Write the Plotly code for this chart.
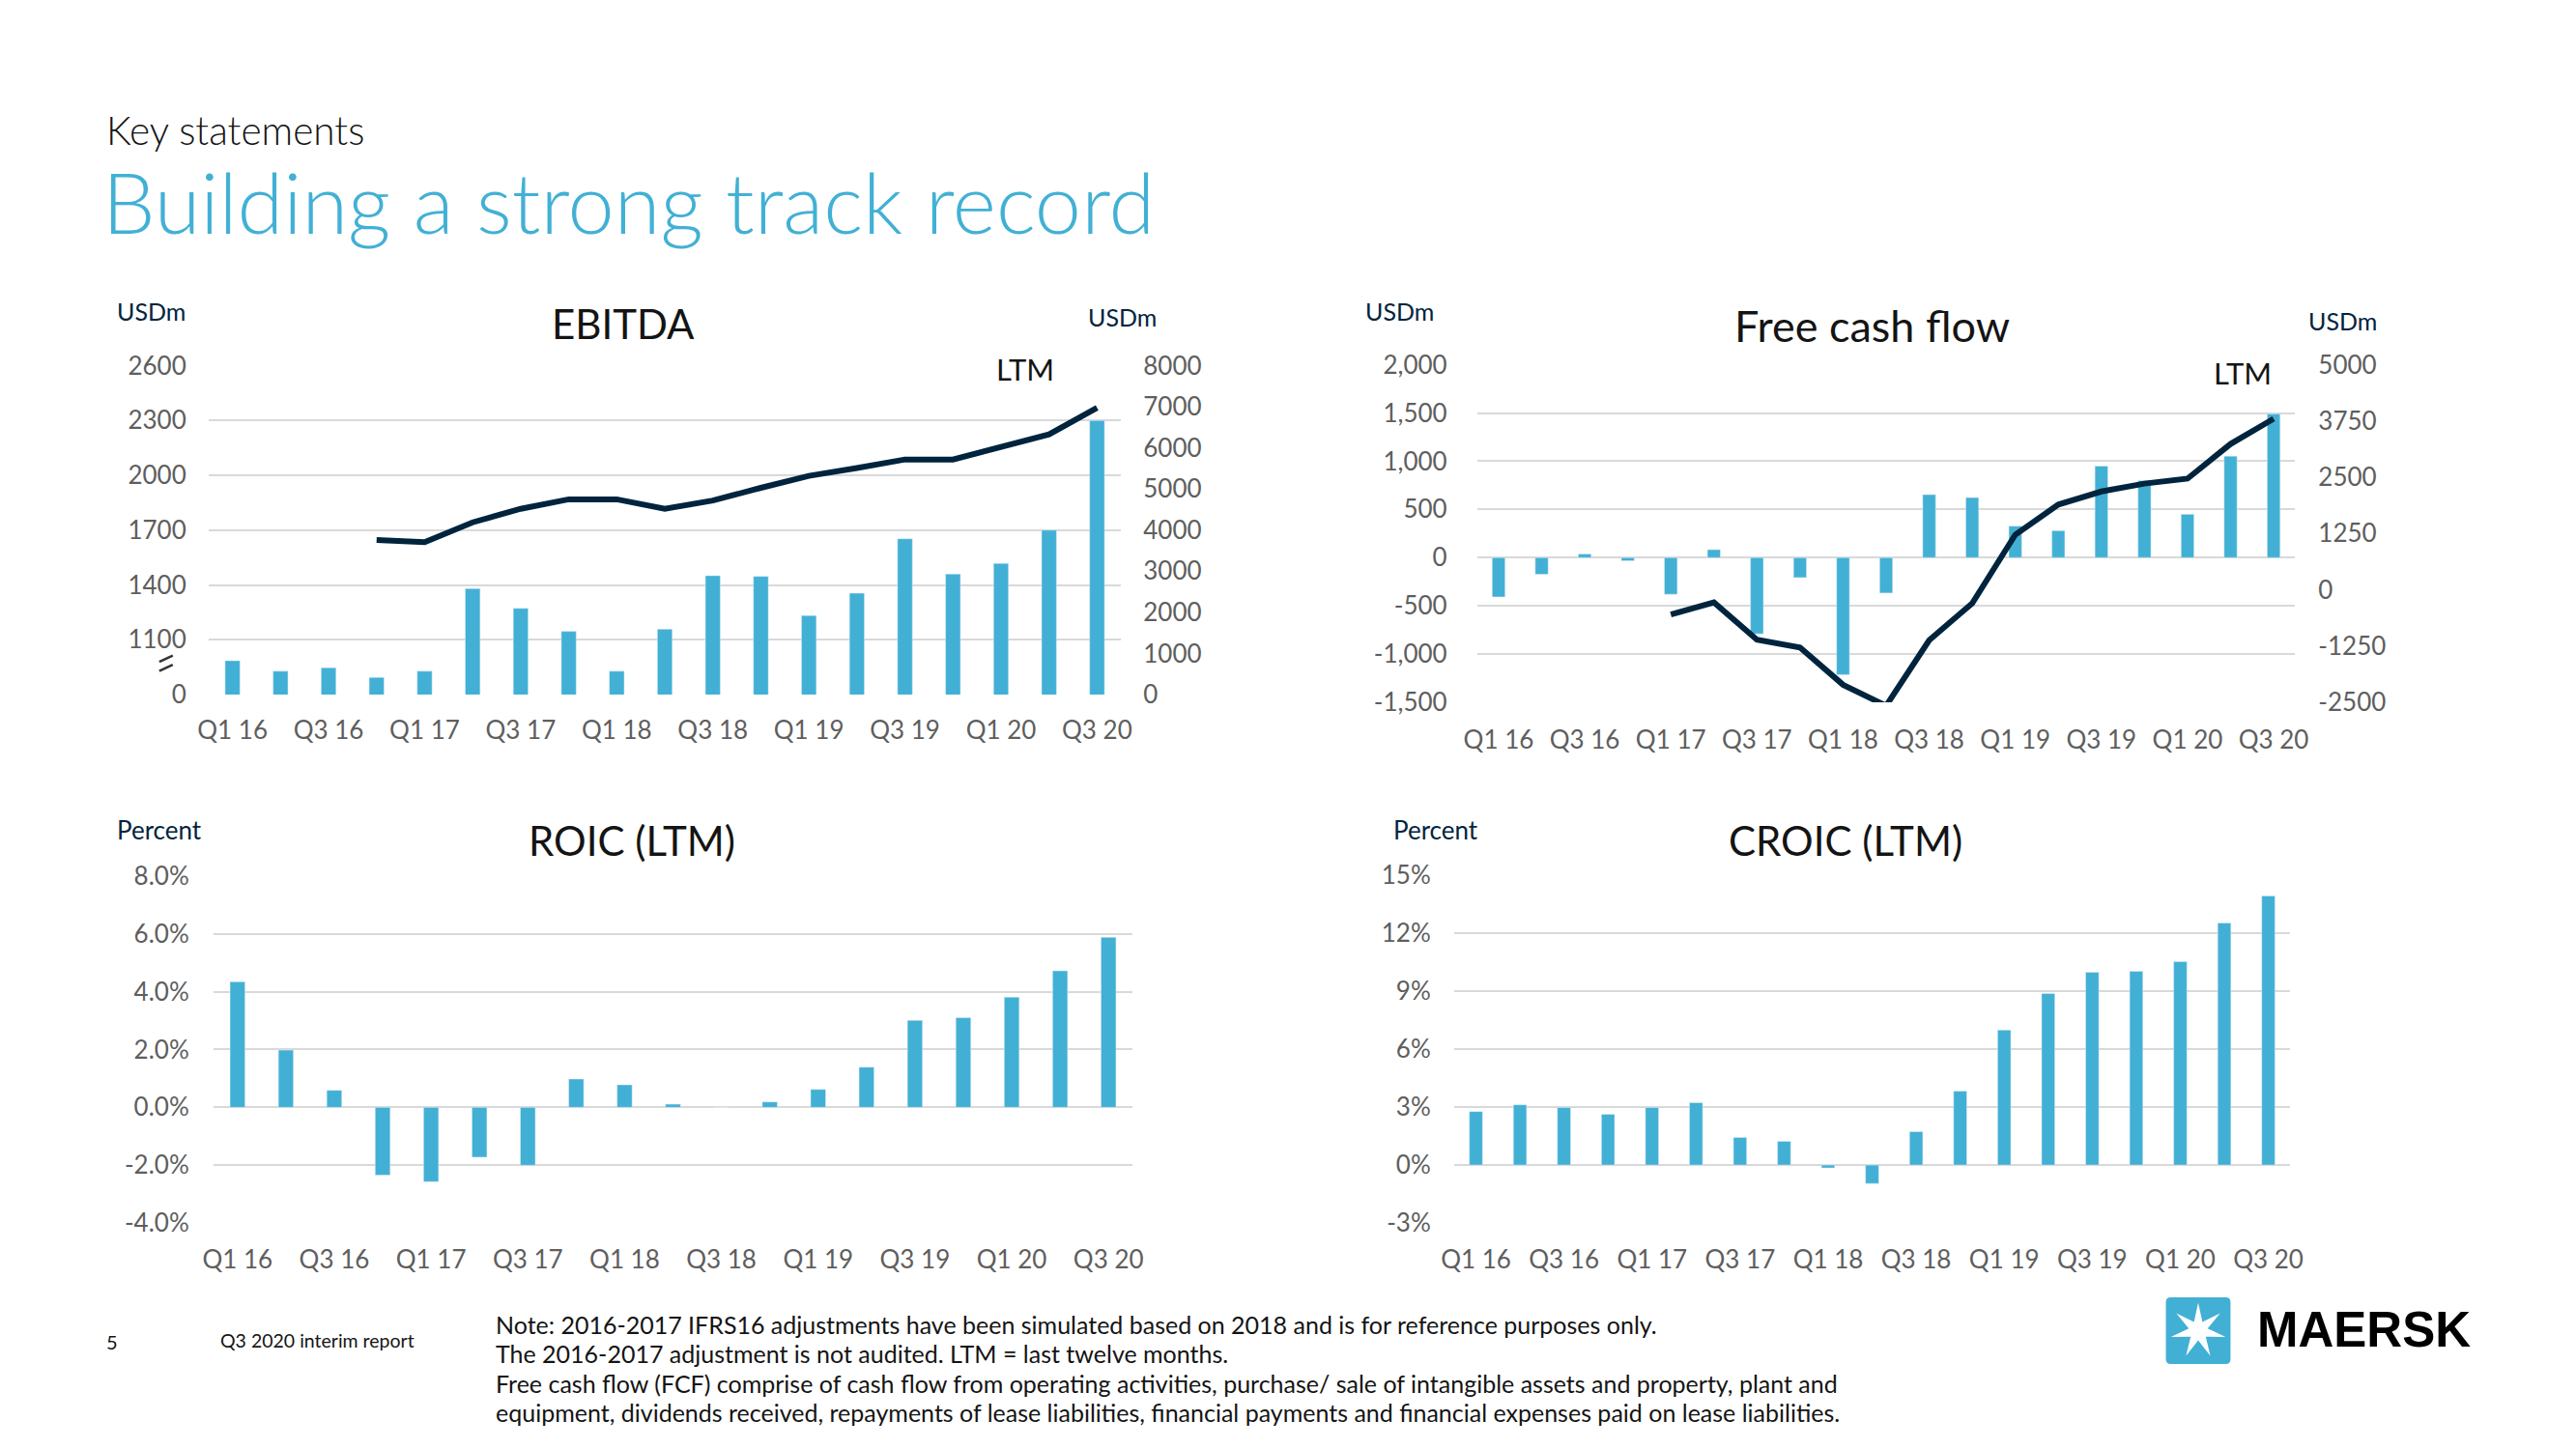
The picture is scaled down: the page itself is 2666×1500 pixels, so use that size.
import math
import plotly.graph_objects as go

# Page is 2666x1500; the browser body keeps its default 8px margin,
# so the figure itself is 16px smaller and all page coordinates are offset by 8px.
PAGE_W, PAGE_H = 2666, 1500
OFF = 8
W, H = PAGE_W - 2 * OFF, PAGE_H - 2 * OFF
# small correction of the capture's apparent scale around the page centre
CX, CY, SX, SY = 1333.0, 750.0, 0.991, 0.98

quarters = ["Q1 16", "Q2 16", "Q3 16", "Q4 16", "Q1 17", "Q2 17", "Q3 17", "Q4 17",
            "Q1 18", "Q2 18", "Q3 18", "Q4 18", "Q1 19", "Q2 19", "Q3 19", "Q4 19",
            "Q1 20", "Q2 20", "Q3 20"]
tick_quarters = quarters[::2]

# EBITDA (USDm), quarterly bars (left, broken axis) and LTM line (right)
ebitda = [986, 928, 947, 894, 928, 1380, 1272, 1146, 928, 1158, 1451, 1447,
          1233, 1355, 1653, 1460, 1518, 1700, 2300]
ebitda_ltm = [None, None, None, 3760, 3710, 4190, 4520, 4750, 4750, 4520, 4720, 5030,
              5320, 5510, 5720, 5720, 6020, 6330, 6980]
ebitda_left_vals = [800, 1100, 1400, 1700, 2000, 2300, 2600]
ebitda_left_text = ["0", "1100", "1400", "1700", "2000", "2300", "2600"]
ebitda_right_vals = [0, 1000, 2000, 3000, 4000, 5000, 6000, 7000, 8000]
ebitda_right_text = ["0", "1000", "2000", "3000", "4000", "5000", "6000", "7000", "8000"]

# Free cash flow (USDm)
fcf = [-407, -173, 37, -33, -380, 83, -790, -207, -1213, -367, 653, 623,
       327, 280, 950, 800, 450, 1053, 1490]
fcf_ltm = [None, None, None, None, -550, -280, -1110, -1280, -2110, -2577, -1120, -300,
           1225, 1895, 2185, 2360, 2470, 3240, 3800]
fcf_left_vals = [-1500, -1000, -500, 0, 500, 1000, 1500, 2000]
fcf_left_text = ["-1,500", "-1,000", "-500", "0", "500", "1,000", "1,500", "2,000"]
fcf_right_vals = [-2500, -1250, 0, 1250, 2500, 3750, 5000]
fcf_right_text = ["-2500", "-1250", "0", "1250", "2500", "3750", "5000"]

# ROIC (LTM), percent
roic = [4.34, 1.98, 0.59, -2.34, -2.57, -1.72, -2.00, 0.98, 0.78, 0.11, 0.0, 0.19,
        0.62, 1.39, 3.01, 3.10, 3.81, 4.72, 5.88]
roic_vals = [-4, -2, 0, 2, 4, 6, 8]
roic_text = ["-4.0%", "-2.0%", "0.0%", "2.0%", "4.0%", "6.0%", "8.0%"]

# CROIC (LTM), percent
croic = [2.77, 3.12, 2.98, 2.63, 2.98, 3.23, 1.43, 1.23, -0.15, -0.95, 1.73, 3.82,
         6.98, 8.87, 9.97, 10.02, 10.52, 12.52, 13.92]
croic_vals = [-3, 0, 3, 6, 9, 12, 15]
croic_text = ["-3%", "0%", "3%", "6%", "9%", "12%", "15%"]

BLUE = "#42B0D5"
NAVY = "#00243D"
GRID = "#D9D9D9"
TICK = "#5E5E5E"
DARK = "#141414"
FONT = "Lato, 'Noto Sans', sans-serif"


def px(x):
    xp = CX + (x - CX) / SX
    return (xp - OFF) / W


def py(y):
    yp = CY + (y - CY) / SY
    return 1 - (yp - OFF) / H


fig = go.Figure()

fig.add_trace(go.Bar(x=quarters, y=ebitda, marker_color=BLUE, width=0.31,
                     xaxis="x", yaxis="y"))
fig.add_trace(go.Scatter(x=quarters, y=ebitda_ltm, mode="lines",
                         line=dict(color=NAVY, width=6), xaxis="x", yaxis="y2"))
fig.add_trace(go.Bar(x=quarters, y=fcf, marker_color=BLUE, width=0.30,
                     xaxis="x3", yaxis="y3"))
fig.add_trace(go.Scatter(x=quarters, y=fcf_ltm, mode="lines",
                         line=dict(color=NAVY, width=6), xaxis="x3", yaxis="y4"))
fig.add_trace(go.Bar(x=quarters, y=roic, marker_color=BLUE, width=0.31,
                     xaxis="x5", yaxis="y5"))
fig.add_trace(go.Bar(x=quarters, y=croic, marker_color=BLUE, width=0.30,
                     xaxis="x6", yaxis="y6"))

tickfont = dict(family=FONT, size=26, color=TICK)


def xax(domain, anchor, standoff):
    return dict(domain=domain, anchor=anchor, type="category",
                categoryorder="array", categoryarray=quarters,
                tickvals=tick_quarters, ticktext=tick_quarters,
                showgrid=False, showline=False, zeroline=False, ticks="",
                tickfont=tickfont, ticklabelstandoff=standoff, fixedrange=True)


def yax(domain, anchor, rng, vals, text, standoff, grid=True, side="left", overlaying=None):
    d = dict(domain=domain, anchor=anchor, range=rng, tickvals=vals, ticktext=text,
             showgrid=grid, gridcolor=GRID, gridwidth=2, zeroline=False,
             showline=False, ticks="", tickfont=tickfont, side=side,
             ticklabelstandoff=standoff, fixedrange=True)
    if overlaying:
        d["overlaying"] = overlaying
    return d


fig.update_layout(
    xaxis=xax([px(214), px(1160)], "y", 19),
    yaxis=yax([py(718), py(377)], "x", [800, 2600], ebitda_left_vals, ebitda_left_text, 22),
    yaxis2=yax([py(718), py(377)], "x", [0, 8000], ebitda_right_vals, ebitda_right_text, 22,
               grid=False, side="right", overlaying="y"),
    xaxis3=xax([px(1529), px(2377)], "y3", 21),
    yaxis3=yax([py(726), py(376)], "x3", [-1500, 2000], fcf_left_vals, fcf_left_text, 30),
    yaxis4=yax([py(726), py(376)], "x3", [-2500, 5000], fcf_right_vals, fcf_right_text, 23,
               grid=False, side="right", overlaying="y3"),
    xaxis5=xax([px(219), px(1172)], "y5", 20),
    yaxis5=yax([py(1266), py(906)], "x5", [-4, 8], roic_vals, roic_text, 24),
    xaxis6=xax([px(1505), px(2372)], "y6", 20),
    yaxis6=yax([py(1266), py(905)], "x6", [-3, 15], croic_vals, croic_text, 23),
)


def ann(text, x, y, size, color=DARK, xanchor="left", yanchor="middle", family=FONT,
        weight=None, **kw):
    font = dict(family=family, size=size, color=color)
    if weight:
        font["weight"] = weight
    fig.add_annotation(text=text, x=px(x), y=py(y), xref="paper", yref="paper",
                       xanchor=xanchor, yanchor=yanchor, showarrow=False,
                       font=font, **kw)


# Header
ann("Key statements", 106, 133, 40.5, color=DARK, weight=300)
ann("Building a strong track record", 102, 207, 86.5, color=BLUE, weight=300)

# EBITDA
ann("EBITDA", 644, 333, 42, xanchor="center")
ann("USDm", 117, 320, 25, color=NAVY)
ann("USDm", 1124, 326, 25, color=NAVY)
ann("LTM", 1061, 380, 31, xanchor="center")

# axis-break mark on the EBITDA left axis
for (x0, y0, x1, y1) in [(163, 684, 177, 677.5), (163, 693.5, 177, 687)]:
    fig.add_shape(type="line", xref="paper", yref="paper",
                  x0=px(x0), y0=py(y0), x1=px(x1), y1=py(y1),
                  line=dict(color="#333333", width=2.5))

# Free cash flow
ann("Free cash flow", 1938, 335, 45, xanchor="center")
ann("USDm", 1411, 320, 25, color=NAVY)
ann("USDm", 2389, 330, 25, color=NAVY)
ann("LTM", 2323, 384, 31, xanchor="center")

# ROIC / CROIC
ann("Percent", 117, 858, 26, color=NAVY)
ann("ROIC (LTM)", 653, 869, 42, xanchor="center")
ann("Percent", 1440, 858, 26, color=NAVY)
ann("CROIC (LTM)", 1911, 869, 42, xanchor="center")

# Footer
ann("5", 106, 1389, 20)
ann("Q3 2020 interim report", 224, 1388, 19.5)
notes = [
    "Note: 2016-2017 IFRS16 adjustments have been simulated based on 2018 and is for reference purposes only.",
    "The 2016-2017 adjustment is not audited. LTM = last twelve months.",
    "Free cash flow (FCF) comprise of cash flow from operating activities, purchase/ sale of intangible assets and property, plant and",
    "equipment, dividends received, repayments of lease liabilities, financial payments and financial expenses paid on lease liabilities.",
]
for i, line in enumerate(notes):
    ann(line, 510, 1371 + i * 30.5, 25)

# Maersk logo: rounded light-blue square with a white seven-pointed star
x0, x1, y0, y1, rc = 2243, 2310, 1343, 1412, 5
sq = (f"M {px(x0+rc)},{py(y0)} L {px(x1-rc)},{py(y0)} Q {px(x1)},{py(y0)} {px(x1)},{py(y0+rc)} "
      f"L {px(x1)},{py(y1-rc)} Q {px(x1)},{py(y1)} {px(x1-rc)},{py(y1)} "
      f"L {px(x0+rc)},{py(y1)} Q {px(x0)},{py(y1)} {px(x0)},{py(y1-rc)} "
      f"L {px(x0)},{py(y0+rc)} Q {px(x0)},{py(y0)} {px(x0+rc)},{py(y0)} Z")
fig.add_shape(type="path", xref="paper", yref="paper", path=sq,
              fillcolor=BLUE, line=dict(width=0))
cx, cy, R, r = 2276.5, 1377.5, 29, 10
pts = []
for k in range(14):
    ang = -math.pi / 2 + k * math.pi / 7
    rad = R if k % 2 == 0 else r
    pts.append((cx + rad * math.cos(ang), cy + rad * math.sin(ang)))
path = "M " + " L ".join(f"{px(a):.6f},{py(b):.6f}" for a, b in pts) + " Z"
fig.add_shape(type="path", xref="paper", yref="paper", path=path,
              fillcolor="white", line=dict(width=0))
ann("<b>MAERSK</b>", 2336, 1376, 51, color="#000000",
    family="'Liberation Sans', Arial, sans-serif")

fig.update_layout(width=W, height=H, margin=dict(l=0, r=0, t=0, b=0),
                  paper_bgcolor="white", plot_bgcolor="white", showlegend=False,
                  barmode="overlay", font=dict(family=FONT))

fig.write_html("out.html", include_plotlyjs=True, config={"displayModeBar": False})
